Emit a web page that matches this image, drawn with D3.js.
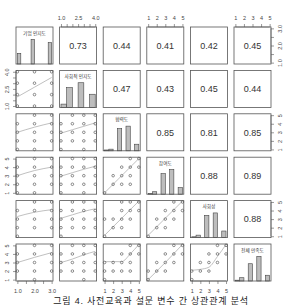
<!DOCTYPE html>
<html>
<head>
<meta charset="utf-8">
<script src="https://cdn.jsdelivr.net/npm/d3@7/dist/d3.min.js"></script>
<style>
body { margin: 0; background: #fff; }
svg { display: block; font-family: "Liberation Sans", Arial, "Noto Sans CJK KR", sans-serif; }
</style>
</head>
<body>
<div id="chart"></div>
<script>
// variables (diagonal)
const names = ["기업 인지도", "사회적 인지도", "협력도", "참여도", "사회성", "전체 만족도"];
const ranges = [[1, 3], [1, 4], [1, 5], [1, 5], [1, 5], [1, 5]];
const histValues = [[1, 2, 3], [1, 2, 3, 4], [1, 2, 3, 4, 5], [1, 2, 3, 4, 5], [1, 2, 3, 4, 5], [1, 2, 3, 4, 5]];
const histCounts = [[13, 30, 26], [4, 24, 30, 16], [1, 2, 27, 30, 8], [1, 3, 25, 30, 8], [1, 3, 27, 30, 8], [1, 4, 21, 30, 7]];
const binWidths = [0.2, 0.5, 0.5, 0.5, 0.5, 0.5];

// axis ticks
const tickValues = [
  [1, 1.5, 2, 2.5, 3],
  [1, 1.5, 2, 2.5, 3, 3.5, 4],
  [1, 2, 3, 4, 5], [1, 2, 3, 4, 5], [1, 2, 3, 4, 5], [1, 2, 3, 4, 5]
];
const tickLabels = [
  {1: "1.0", 2: "2.0", 3: "3.0"},
  {1: "1.0", 2.5: "2.5", 4: "4.0"},
  {1: "1", 2: "2", 3: "3", 4: "4", 5: "5"},
  {1: "1", 2: "2", 3: "3", 4: "4", 5: "5"},
  {1: "1", 2: "2", 3: "3", 4: "4", 5: "5"},
  {1: "1", 2: "2", 3: "3", 4: "4", 5: "5"}
];

// upper panels: correlations, row by row
const corrRows = [
  [0.73, 0.44, 0.41, 0.42, 0.45],
  [0.47, 0.43, 0.45, 0.44],
  [0.85, 0.81, 0.85],
  [0.88, 0.89],
  [0.88]
];

// lower panels: observed [x, y] combinations, key = row+col
const points = {
  "10": [[1,1],[2,1],[3,1],[1,2],[2,2],[3,2],[1,3],[2,3],[3,3],[1,4],[2,4],[3,4]],
  "20": [[1,1],[2,1],[1,2],[2,2],[3,2],[1,3],[2,3],[3,3],[1,4],[2,4],[3,4],[2,5],[3,5]],
  "21": [[1,1],[3,1],[1,2],[2,2],[3,2],[4,2],[1,3],[2,3],[3,3],[4,3],[1,4],[2,4],[3,4],[4,4],[2,5],[3,5],[4,5]],
  "30": [[1,1],[2,1],[1,2],[2,2],[3,2],[1,3],[2,3],[3,3],[1,4],[2,4],[3,4],[2,5],[3,5]],
  "31": [[1,1],[3,1],[1,2],[2,2],[3,2],[4,2],[1,3],[2,3],[3,3],[4,3],[1,4],[2,4],[3,4],[4,4],[2,5],[3,5],[4,5]],
  "32": [[1,1],[2,2],[3,2],[4,2],[2,3],[3,3],[4,3],[3,4],[4,4],[5,4],[4,5],[5,5]],
  "40": [[1,1],[1,2],[2,2],[3,2],[1,3],[2,3],[3,3],[1,4],[2,4],[3,4],[2,5],[3,5]],
  "41": [[1,1],[1,2],[2,2],[3,2],[4,2],[1,3],[2,3],[3,3],[4,3],[1,4],[2,4],[3,4],[4,4],[2,5],[3,5],[4,5]],
  "42": [[1,1],[2,2],[3,2],[1,3],[2,3],[3,3],[4,3],[3,4],[4,4],[5,4],[3,5],[4,5],[5,5]],
  "43": [[1,1],[2,2],[3,2],[2,3],[3,3],[4,3],[3,4],[4,4],[5,4],[4,5],[5,5]],
  "50": [[2,1],[1,2],[2,2],[3,2],[1,3],[2,3],[3,3],[1,4],[2,4],[3,4],[2,5],[3,5]],
  "51": [[3,1],[1,2],[2,2],[3,2],[4,2],[1,3],[2,3],[3,3],[4,3],[1,4],[2,4],[3,4],[4,4],[2,5],[3,5],[4,5]],
  "52": [[1,1],[1,2],[2,2],[3,2],[4,2],[1,3],[2,3],[3,3],[4,3],[3,4],[4,4],[5,4],[4,5],[5,5]],
  "53": [[1,1],[1,2],[2,2],[3,2],[2,3],[3,3],[4,3],[3,4],[4,4],[5,4],[4,5],[5,5]],
  "54": [[1,1],[1,2],[2,2],[3,2],[2,3],[3,3],[4,3],[3,4],[4,4],[5,4],[4,5],[5,5]]
};

// smoother
const smooth = {
  "10": [[1,1.8],[2,2.65],[3,3.5]],
  "20": [[1,3.0],[2,3.6],[3,4.1]],
  "21": [[1,2.9],[2,3.3],[3,3.7],[4,4.1]],
  "30": [[1,3.0],[2,3.6],[3,4.0]],
  "31": [[1,2.95],[2,3.35],[3,3.75],[4,4.1]],
  "32": [[1,1.0],[3,3.0],[5,5.0]],
  "40": [[1,3.3],[2,3.8],[3,4.1]],
  "41": [[1,3.1],[2,3.5],[3,3.9],[4,4.2]],
  "42": [[1,1.1],[3,3.1],[5,5.1]],
  "43": [[1,1.1],[3,3.1],[5,5.1]],
  "50": [[1,3.0],[2,3.6],[3,4.15]],
  "51": [[1,3.0],[2,3.4],[3,3.9],[4,4.3]],
  "52": [[1,3.1],[2,3.1],[3,3.1],[4,4.0],[5,5.1]],
  "53": [[1,1.0],[3,3.0],[5,5.1]],
  "54": [[1,2.1],[2,2.2],[3,2.45],[4,3.7],[5,5.1]]
};

const caption = "그림 4. 사전교육과 설문 변수 간 상관관계 분석";

const width = 287, height = 305;
const n = names.length;
const size = 37;
const x0 = 16, y0 = 27, pitchX = 43.6, pitchY = 43.4;
const ink = "#444";

const svg = d3.select("#chart").append("svg")
  .attr("width", width)
  .attr("height", height);

// 4% padded scales like R's usr
const scales = ranges.map(([lo, hi]) => {
  const pad = (hi - lo) * 0.04;
  return d3.scaleLinear().domain([lo - pad, hi + pad]).range([0, size]);
});
const yScales = ranges.map(([lo, hi]) => {
  const pad = (hi - lo) * 0.04;
  return d3.scaleLinear().domain([lo - pad, hi + pad]).range([size, 0]);
});

const cellX = j => x0 + j * pitchX;
const cellY = i => y0 + i * pitchY;

const defs = svg.append("defs");

for (let i = 0; i < n; i++) {
  for (let j = 0; j < n; j++) {
    const g = svg.append("g").attr("transform", `translate(${cellX(j)},${cellY(i)})`);
    const key = `${i}${j}`;

    if (i === j) {
      // histogram
      const bw = binWidths[i];
      const hy = d3.scaleLinear().domain([0, d3.max(histCounts[i]) * 1.5]).range([size, 0]);
      g.selectAll("rect.bar")
        .data(histValues[i].map((v, k) => ({v, c: histCounts[i][k]})))
        .join("rect")
        .attr("class", "bar")
        .attr("x", d => scales[i](d.v === ranges[i][0] ? d.v : d.v - bw))
        .attr("width", scales[i](bw) - scales[i](0))
        .attr("y", d => hy(d.c))
        .attr("height", d => size - hy(d.c))
        .attr("fill", "#bdbdbd")
        .attr("stroke", ink)
        .attr("stroke-width", 0.6);
      g.append("text")
        .attr("x", size / 2)
        .attr("y", 7.5)
        .attr("text-anchor", "middle")
        .style("font-size", "4.7px")
        .attr("fill", "#333")
        .text(names[i]);
    } else if (j > i) {
      g.append("text")
        .attr("x", size / 2)
        .attr("y", size / 2)
        .attr("dy", "0.36em")
        .attr("text-anchor", "middle")
        .style("font-size", "9px")
        .attr("fill", "#333")
        .text(corrRows[i][j - i - 1].toFixed(2));
    } else {
      const sx = scales[j], sy = yScales[i];
      defs.append("clipPath").attr("id", "c" + key)
        .append("rect").attr("width", size).attr("height", size);
      g.append("path")
        .datum(smooth[key])
        .attr("clip-path", `url(#c${key})`)
        .attr("d", d3.line().x(d => sx(d[0])).y(d => sy(d[1])).curve(d3.curveMonotoneX))
        .attr("fill", "none")
        .attr("stroke", "#b0b0b0")
        .attr("stroke-width", 0.8);
      g.selectAll("circle")
        .data(points[key])
        .join("circle")
        .attr("cx", d => sx(d[0]))
        .attr("cy", d => sy(d[1]))
        .attr("r", 1.3)
        .attr("fill", "none")
        .attr("stroke", ink)
        .attr("stroke-width", 0.6);
    }

    g.append("rect")
      .attr("width", size)
      .attr("height", size)
      .attr("fill", "none")
      .attr("stroke", "#555")
      .attr("stroke-width", 0.8);
  }
}

// axes alternate sides like R pairs()
function styleAxis(sel) {
  sel.select(".domain").remove();
  sel.selectAll(".tick line").attr("stroke", "#555").attr("stroke-width", 0.6);
  sel.selectAll(".tick text").attr("fill", "#444").style("font-size", "5.5px");
}
const fmt = k => v => tickLabels[k][v] || "";

for (let k = 0; k < n; k++) {
  const t = tickValues[k];
  // horizontal axis for column k
  const top = k % 2 === 1;
  const hx = svg.append("g")
    .attr("transform", `translate(${cellX(k)},${top ? cellY(0) : cellY(n - 1) + size})`)
    .call((top ? d3.axisTop(scales[k]) : d3.axisBottom(scales[k]))
      .tickValues(t).tickSize(3).tickPadding(top ? 4 : 5).tickFormat(fmt(k)));
  styleAxis(hx);
  hx.append("line")
    .attr("x1", scales[k](t[0])).attr("x2", scales[k](t[t.length - 1]))
    .attr("stroke", "#555").attr("stroke-width", 0.6);

  // vertical axis for row k
  const left = k % 2 === 1;
  const vx = svg.append("g")
    .attr("transform", `translate(${left ? cellX(0) : cellX(n - 1) + size},${cellY(k)})`)
    .call((left ? d3.axisLeft(yScales[k]) : d3.axisRight(yScales[k]))
      .tickValues(t).tickSize(3).tickFormat(fmt(k)));
  styleAxis(vx);
  vx.append("line")
    .attr("y1", yScales[k](t[0])).attr("y2", yScales[k](t[t.length - 1]))
    .attr("stroke", "#555").attr("stroke-width", 0.6);
  vx.selectAll(".tick text")
    .attr("x", null).attr("dy", null)
    .attr("text-anchor", "middle")
    .attr("transform", `translate(${left ? -7.5 : 10.5},0) rotate(-90)`);
}

svg.append("text")
  .attr("x", 151)
  .attr("y", 304)
  .attr("text-anchor", "middle")
  .style("font-size", "9px")
  .style("letter-spacing", "0.8px")
  .attr("fill", "#222")
  .text(caption);
</script>
</body>
</html>
